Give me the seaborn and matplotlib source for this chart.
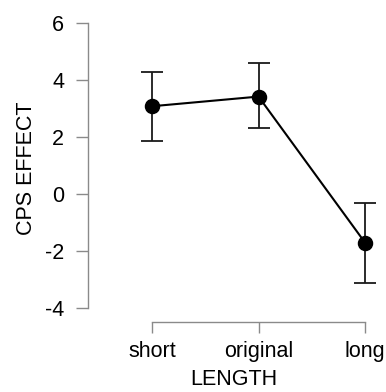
import numpy as np
import pandas as pd
import matplotlib
matplotlib.use("Agg")
import matplotlib.pyplot as plt
import seaborn as sns

categories = ["short", "original", "long"]
means = [3.08, 3.42, -1.72]
ci_low = [1.85, 2.30, -3.14]
ci_high = [4.28, 4.61, -0.32]
y_ticks = [-4, -2, 0, 2, 4, 6]

sns.set_style("ticks")
plt.rcParams["font.family"] = ["Liberation Sans", "DejaVu Sans"]

df = pd.DataFrame({"LENGTH": categories, "CPS EFFECT": means})

fig = plt.figure(figsize=(3.86, 3.92), dpi=100)
ax = fig.add_axes([88 / 386, 70 / 392, 292 / 386, 307 / 392])

pos = np.arange(len(categories))
m = np.array(means)
ax.errorbar(pos, m, yerr=[m - np.array(ci_low), np.array(ci_high) - m],
            fmt="none", ecolor="#1a1a1a", elinewidth=1.3, capsize=7.6,
            capthick=1.3, zorder=1)
sns.pointplot(data=df, x="LENGTH", y="CPS EFFECT", order=categories,
              errorbar=None, color="black", markers="o", markersize=10,
              linewidth=1.5, ax=ax, zorder=3)

ax.set_xlim(-0.6, 2.14)
ax.set_ylim(-4.51, 6.29)
ax.set_yticks(y_ticks)
ax.set_yticklabels([str(t) for t in y_ticks])

for s in ["top", "right"]:
    ax.spines[s].set_visible(False)
ax.spines["left"].set_bounds(-4, 6)
ax.spines["bottom"].set_bounds(0, 2)
for s in ["left", "bottom"]:
    ax.spines[s].set_color("#8a8a8a")
    ax.spines[s].set_linewidth(1.0)

ax.tick_params(axis="y", length=8.6, width=1.0, color="#8a8a8a", pad=8.5,
               labelsize=15.5, labelcolor="black")
ax.tick_params(axis="x", length=8, width=1.0, color="#8a8a8a", pad=6,
               labelsize=15.5, labelcolor="black")

ax.set_xlabel("LENGTH", fontsize=15.5, labelpad=5, color="black")
ax.set_ylabel("CPS EFFECT", fontsize=15.5, labelpad=5.5, color="black")

fig.savefig("out.png", dpi=100)
